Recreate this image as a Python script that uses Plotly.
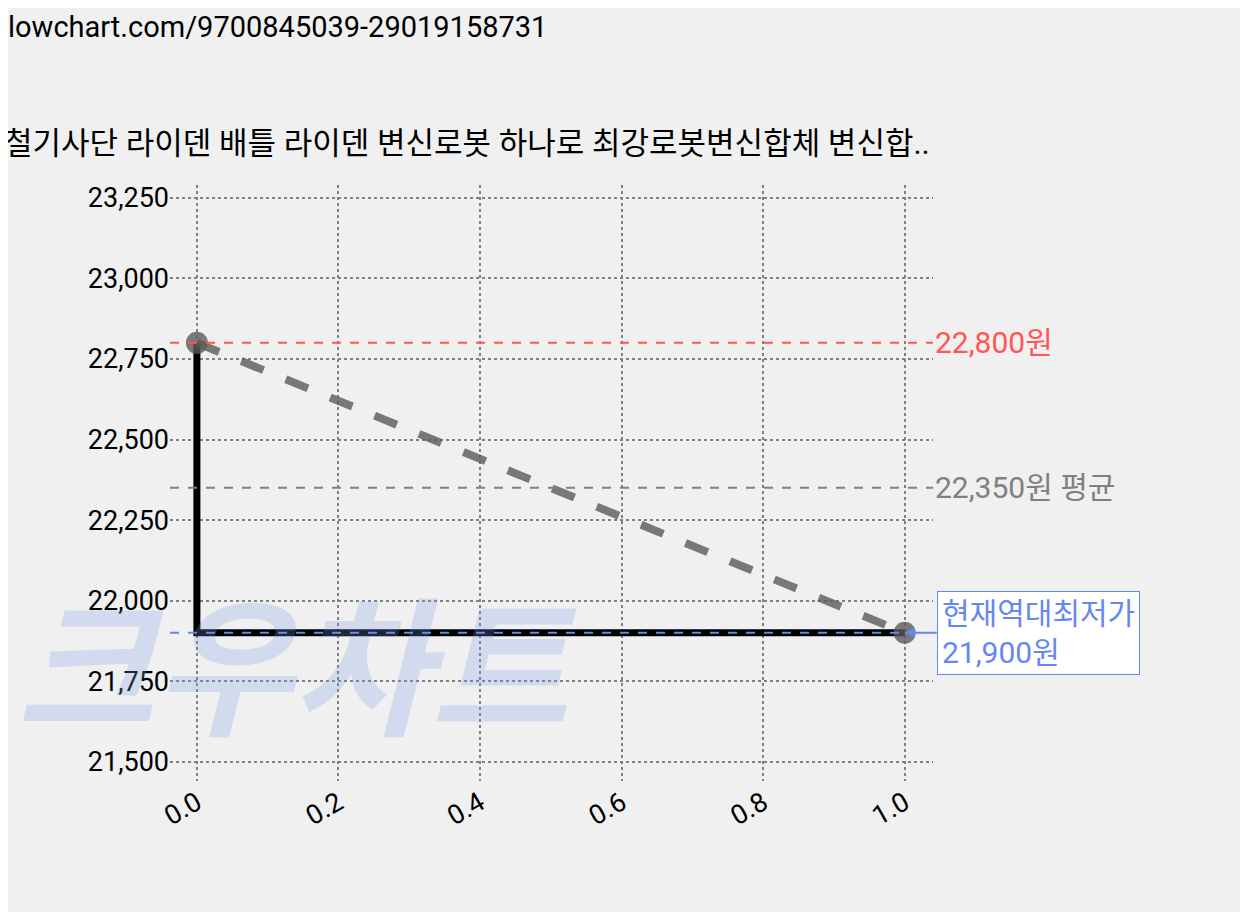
import plotly.graph_objects as go

title = "철기사단 라이덴 배틀 라이덴 변신로봇 하나로 최강로봇변신합체 변신합.."
xs = [0.0, 1.0]
prices = [22800, 21900]
max_price = 22800
avg_price = 22350
min_price = 21900
yticks = [21500, 21750, 22000, 22250, 22500, 22750, 23000, 23250]
xticks = [0.0, 0.2, 0.4, 0.6, 0.8, 1.0]
F = "Roboto, Noto Sans CJK KR"

fig = go.Figure()
fig.add_trace(go.Scatter(x=[xs[0], xs[0], xs[1]], y=[prices[0], prices[1], prices[1]],
    mode="lines", line=dict(color="black", width=7), showlegend=False))
fig.add_trace(go.Scatter(x=xs, y=prices, mode="lines+markers",
    line=dict(color="rgba(90,90,90,0.8)", width=8, dash="dash"),
    marker=dict(size=22, color="rgba(90,90,90,0.8)"), showlegend=False))
fig.add_hline(y=max_price, line=dict(color="#ff5555", width=2, dash="dash"))
fig.add_hline(y=avg_price, line=dict(color="gray", width=2, dash="dash"))
fig.add_shape(type="line", xref="paper", x0=0, x1=0.965,
    yref="y", y0=min_price, y1=min_price, line=dict(color="#6688ee", width=2, dash="dash"))
fig.add_annotation(xref="paper", x=1.0, y=max_price, xanchor="left", text=f"{max_price:,}원",
    showarrow=False, font=dict(family=F, size=30, color="#ff5555"))
fig.add_annotation(xref="paper", x=1.0, y=avg_price, xanchor="left", text=f"{avg_price:,}원 평균",
    showarrow=False, font=dict(family=F, size=30, color="gray"))
fig.add_annotation(x=xs[1], y=min_price, ax=32, ay=0, text=f"현재역대최저가<br>{min_price:,}원",
    xanchor="left", align="left", showarrow=True, arrowhead=2, arrowcolor="#6688ee", arrowwidth=2,
    bgcolor="white", bordercolor="#6688ee", borderwidth=1, borderpad=4,
    font=dict(family=F, size=30, color="#6688ee"))
fig.add_annotation(xref="paper", yref="paper", x=-0.205, y=0.02, xanchor="left", yanchor="bottom",
    text="<b><i>크우차트</i></b>", showarrow=False,
    font=dict(family="Noto Sans CJK KR", size=150, color="rgba(120,150,230,0.25)"))
fig.add_annotation(xref="paper", yref="paper", x=-0.22, y=1.035, xanchor="left", yanchor="bottom",
    text=title, showarrow=False, font=dict(family=F, size=31, color="black"))
fig.update_layout(width=1248, height=912, paper_bgcolor="#f0f0f0", plot_bgcolor="#f0f0f0",
    margin=dict(l=162, r=323, t=177, b=139), font=dict(family=F, size=27, color="black"),
    title=dict(text="lowchart.com/9700845039-29019158731", x=0.0, y=0.99, xanchor="left",
               font=dict(family=F, size=29)))
grid = dict(showgrid=True, gridcolor="gray", griddash="dot", gridwidth=2, zeroline=False,
            ticks="", showline=False)
fig.update_xaxes(range=[-0.038, 1.04], tickvals=xticks, ticktext=[f"{v:.1f}" for v in xticks],
                 tickangle=-30, **grid)
fig.update_yaxes(range=[21440, 23290], tickvals=yticks, tickformat=",", **grid)
fig.write_html("out.html")
